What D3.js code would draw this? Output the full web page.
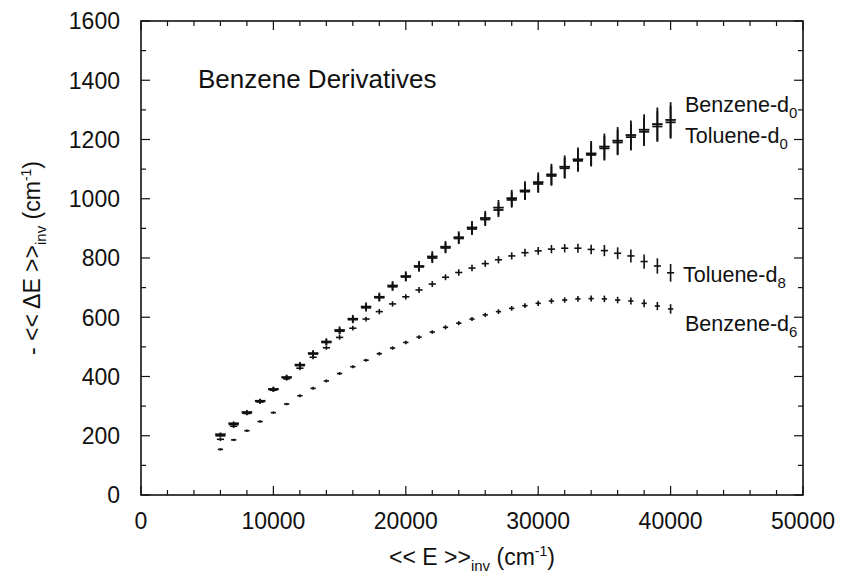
<!DOCTYPE html>
<html>
<head>
<meta charset="utf-8">
<script src="https://cdn.jsdelivr.net/npm/d3@7"></script>
<style>
  html, body { margin: 0; padding: 0; background: #fff; }
  svg { display: block; font-family: "Liberation Sans", Arial, Helvetica, sans-serif; }
</style>
</head>
<body>
<svg id="chart" width="844" height="573"></svg>
<script>
// ---------------- data ----------------
const energies = [6000,7000,8000,9000,10000,11000,12000,13000,14000,15000,16000,17000,18000,19000,20000,21000,22000,23000,24000,25000,26000,27000,28000,29000,30000,31000,32000,33000,34000,35000,36000,37000,38000,39000,40000];

const benzeneD0 = [205,242,280,318,358,398,440,479,518,557,595,636,669,707,739,773,805,838,870,903,935,970,1002,1028,1056,1082,1108,1133,1153,1176,1196,1215,1233,1252,1266];
const benzeneD0Err = [6,6,7,7,8,8,9,10,11,12,13,14,14,15,16,17,18,19,20,22,24,26,28,31,33,36,38,40,42,44,46,49,52,56,60];

const tolueneD0 = [200,238,277,316,356,396,437,476,515,553,592,632,666,703,736,770,800,834,866,898,930,962,996,1024,1050,1077,1103,1128,1148,1170,1190,1208,1226,1244,1258];
const tolueneD0Err = [5,6,6,7,7,8,8,9,10,11,12,13,13,14,15,16,17,18,19,20,22,24,26,28,30,33,35,37,39,41,43,45,48,52,55];

const tolueneD8 = [188,232,275,314,354,392,428,465,497,532,563,594,619,645,669,692,712,735,751,766,781,794,807,818,824,830,833,833,829,825,816,807,788,773,750];
const tolueneD8Err = [6,6,6,6,6,6,7,7,7,8,8,8,9,9,9,10,10,10,11,11,11,12,12,13,13,14,14,15,16,19,20,22,24,26,30];

const benzeneD6 = [154,186,217,248,278,307,335,360,385,410,433,455,477,496,515,533,550,566,580,594,608,619,630,639,647,655,658,662,663,662,658,655,647,638,628];
const benzeneD6Err = [4,4,4,4,4,4,5,5,5,5,5,5,6,6,6,6,6,7,7,7,7,8,8,8,9,9,9,10,10,11,11,12,13,14,16];

const seriesNames = ["Benzene-d", "Toluene-d", "Toluene-d", "Benzene-d"];
const seriesSubs = ["0", "0", "8", "6"];
const seriesXErr = [400, 380, 270, 200];   // horizontal half-width of the crosses, cm-1
const labelValues = [1320, 1215, 745, 580]; // label anchor heights (data units)

const xTicks = [0,10000,20000,30000,40000,50000];
const yTicks = [0,200,400,600,800,1000,1200,1400,1600];
const titleText = "Benzene Derivatives";

// ---------------- layout ----------------
const svg = d3.select("#chart");
const L = 141, T = 21, R = 803, B = 495;
const x = d3.scaleLinear().domain([0, 50000]).range([L, R]);
const y = d3.scaleLinear().domain([0, 1600]).range([B, T]);

const ink = "#111";

// frame
svg.append("rect")
  .attr("x", L).attr("y", T).attr("width", R - L).attr("height", B - T)
  .attr("fill", "none").attr("stroke", ink).attr("stroke-width", 1.6);

// ticks (inward, all four sides)
const xMinor = d3.range(0, 50001, 2000);
const yMinor = d3.range(0, 1601, 100);
const tk = svg.append("g").attr("stroke", ink).attr("stroke-width", 1.2);
xMinor.forEach(v => {
  const len = (v % 10000 === 0) ? 9 : 5;
  tk.append("line").attr("x1", x(v)).attr("x2", x(v)).attr("y1", B).attr("y2", B - len);
  tk.append("line").attr("x1", x(v)).attr("x2", x(v)).attr("y1", T).attr("y2", T + len);
});
yMinor.forEach(v => {
  const len = (v % 200 === 0) ? 9 : 5;
  tk.append("line").attr("y1", y(v)).attr("y2", y(v)).attr("x1", L).attr("x2", L + len);
  tk.append("line").attr("y1", y(v)).attr("y2", y(v)).attr("x1", R).attr("x2", R - len);
});

// tick labels
svg.append("g").selectAll("text").data(xTicks).join("text")
  .attr("x", d => x(d)).attr("y", 529)
  .attr("text-anchor", "middle").attr("font-size", 23).attr("fill", ink)
  .text(d => d);
svg.append("g").selectAll("text").data(yTicks).join("text")
  .attr("x", 120).attr("y", d => y(d)).attr("dy", "0.36em")
  .attr("text-anchor", "end").attr("font-size", 23).attr("fill", ink)
  .text(d => d);

// axis titles
const xl = svg.append("text").attr("x", 472).attr("y", 565)
  .attr("text-anchor", "middle").attr("font-size", 23).attr("fill", ink);
xl.append("tspan").text("<< E >>");
xl.append("tspan").attr("font-size", 15).attr("dy", 6).text("inv");
xl.append("tspan").attr("dy", -6).text(" (cm");
xl.append("tspan").attr("font-size", 14).attr("dy", -9).text("-1");
xl.append("tspan").attr("dy", 9).text(")");

const yl = svg.append("text").attr("transform", "translate(40,258) rotate(-90)")
  .attr("text-anchor", "middle").attr("font-size", 23).attr("fill", ink);
yl.append("tspan").text("- << \u0394E >>");
yl.append("tspan").attr("font-size", 15).attr("dy", 6).text("inv");
yl.append("tspan").attr("dy", -6).text(" (cm");
yl.append("tspan").attr("font-size", 14).attr("dy", -9).text("-1");
yl.append("tspan").attr("dy", 9).text(")");

// title
svg.append("text").attr("x", 198).attr("y", 88)
  .attr("font-size", 26).attr("fill", ink)
  .text(titleText);

// ---------------- error-bar crosses ----------------
const allSeries = [
  { vals: benzeneD0, err: benzeneD0Err, sw: 1.8 },
  { vals: tolueneD0, err: tolueneD0Err, sw: 1.8 },
  { vals: tolueneD8, err: tolueneD8Err, sw: 1.6 },
  { vals: benzeneD6, err: benzeneD6Err, sw: 1.6 }
];
allSeries.forEach((s, si) => {
  const g = svg.append("g").attr("stroke", ink).attr("stroke-width", s.sw);
  const pts = energies.map((e, i) => ({ e, v: s.vals[i], dv: s.err[i], de: seriesXErr[si] }));
  g.selectAll("line.v").data(pts).join("line").attr("class", "v")
    .attr("x1", d => x(d.e)).attr("x2", d => x(d.e))
    .attr("y1", d => y(d.v - d.dv)).attr("y2", d => y(d.v + d.dv));
  g.selectAll("line.h").data(pts).join("line").attr("class", "h")
    .attr("x1", d => x(d.e - d.de)).attr("x2", d => x(d.e + d.de))
    .attr("y1", d => y(d.v)).attr("y2", d => y(d.v));
});

// series labels
const labelX = [685, 685, 683, 685];
seriesNames.forEach((n, i) => {
  const t = svg.append("text").attr("x", labelX[i]).attr("y", y(labelValues[i]))
    .attr("dy", "0.36em").attr("font-size", 21.5).attr("fill", ink);
  t.append("tspan").text(n);
  t.append("tspan").attr("font-size", 15).attr("dy", 6).text(seriesSubs[i]);
});
</script>
</body>
</html>
